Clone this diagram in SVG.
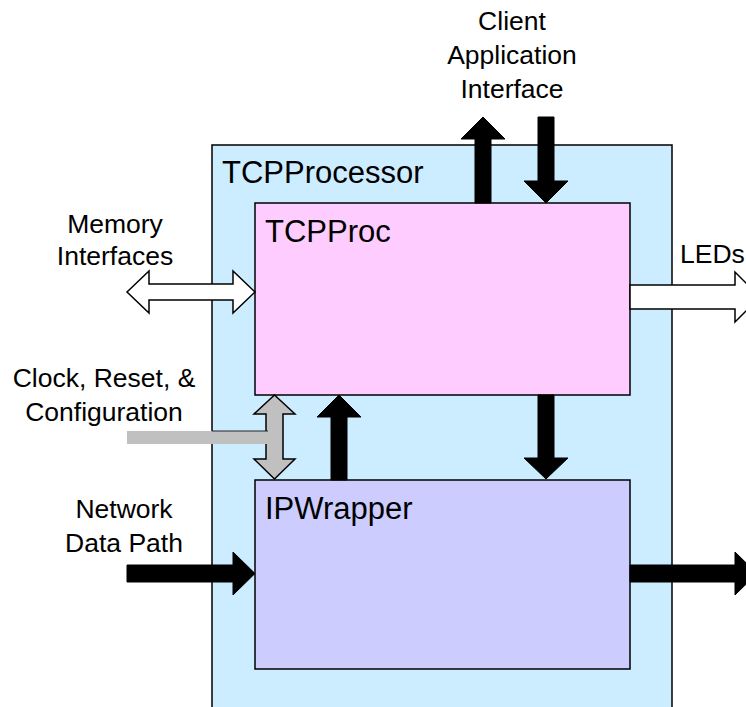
<svg xmlns="http://www.w3.org/2000/svg" width="746" height="707" viewBox="0 0 746 707">
<style>
  text { font-family: "Liberation Sans", Arial, sans-serif; fill: #000; }
  .lbl { font-size: 26.5px; text-anchor: middle; }
  .title { font-size: 31px; }
  .box { stroke: #000; stroke-width: 1.5; }
  .blk { fill: #000; stroke: #000; stroke-width: 1; }
  .wht { fill: #fff; stroke: #000; stroke-width: 1.5; }
  .gry { fill: #C0C0C0; stroke: #000; stroke-width: 1.5; }
</style>
<rect width="746" height="707" fill="#fff"/>

<g id="TCPProcessor">
  <rect class="box" x="212" y="145" width="460" height="580" fill="#CCECFF"/>
  <text class="title" x="222" y="183">TCPProcessor</text>
</g>
<g id="TCPProc">
  <rect class="box" x="255" y="203" width="375" height="192" fill="#FFCCFF"/>
  <text class="title" x="265" y="242">TCPProc</text>
</g>
<g id="IPWrapper">
  <rect class="box" x="255" y="480" width="375" height="189" fill="#CCCCFF"/>
  <text class="title" x="265" y="519">IPWrapper</text>
</g>

<g id="labels">
  <text class="lbl" x="512" y="30">Client</text>
  <text class="lbl" x="512" y="64">Application</text>
  <text class="lbl" x="512" y="98">Interface</text>
  <text class="lbl" x="115" y="233">Memory</text>
  <text class="lbl" x="115" y="265">Interfaces</text>
  <text class="lbl" x="104" y="387">Clock, Reset, &amp;</text>
  <text class="lbl" x="104" y="421">Configuration</text>
  <text class="lbl" x="124" y="518">Network</text>
  <text class="lbl" x="124" y="552">Data Path</text>
  <text x="680" y="263" style="font-size:26.5px">LEDs</text>
</g>

<g id="connectors">
  <!-- Client up arrow -->
  <polygon class="blk" points="475,203 475,139 461,139 483,117 505,139 491,139 491,203"/>
  <!-- Client down arrow -->
  <polygon class="blk" points="538,117 554,117 554,181 568,181 546,203 524,181 538,181"/>
  <!-- TCPProc -> IPWrapper -->
  <polygon class="blk" points="538,395 554,395 554,458 568,458 546,479 524,458 538,458"/>
  <!-- IPWrapper -> TCPProc -->
  <polygon class="blk" points="331,480 331,417 317,417 339,395 361,417 347,417 347,480"/>
  <!-- Memory double arrow -->
  <polygon class="wht" points="127,292 149,271 149,284 233,284 233,271 255,292 233,313 233,300 149,300 149,313"/>
  <!-- LEDs arrow -->
  <polygon class="wht" points="630,285 735,285 735,272 760,297 735,322 735,309 630,309"/>
  <!-- Clock/Reset gray double arrow -->
  <polygon class="gry" points="274.5,395 295,414 283,414 283,459 295,459 274.5,479 254,459 266,459 266,414 254,414"/>
  <rect x="127" y="431" width="142" height="13" fill="#C0C0C0"/>
  <line x1="212" y1="431" x2="268" y2="431" stroke="#222" stroke-width="1"/>
  <!-- Network data path in -->
  <polygon class="blk" points="127,565 233,565 233,552 255,573.5 233,595 233,582 127,582"/>
  <!-- Network data path out -->
  <polygon class="blk" points="630,565 735,565 735,552 757,573.5 735,595 735,582 630,582"/>
</g>
</svg>
